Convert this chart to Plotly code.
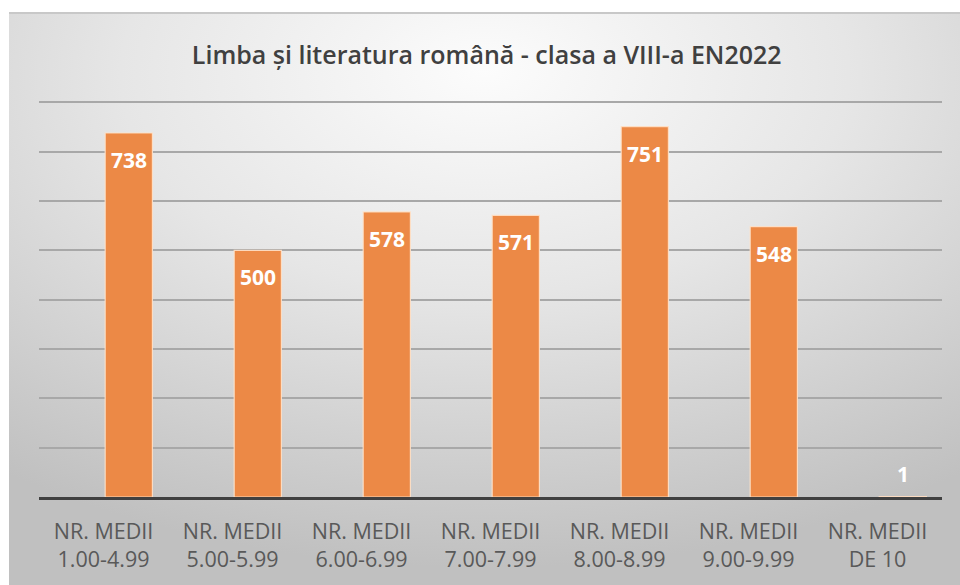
import base64
import plotly.graph_objects as go

# ---- data ----
categories = ["NR. MEDII 1.00-4.99", "NR. MEDII 5.00-5.99", "NR. MEDII 6.00-6.99",
              "NR. MEDII 7.00-7.99", "NR. MEDII 8.00-8.99", "NR. MEDII 9.00-9.99",
              "NR. MEDII DE 10"]
tick_labels = ["NR. MEDII<br>1.00-4.99", "NR. MEDII<br>5.00-5.99", "NR. MEDII<br>6.00-6.99",
               "NR. MEDII<br>7.00-7.99", "NR. MEDII<br>8.00-8.99", "NR. MEDII<br>9.00-9.99",
               "NR. MEDII<br>DE 10"]
values = [738, 500, 578, 571, 751, 548, 1]
y_ticks = [0, 100, 200, 300, 400, 500, 600, 700, 800]
title = "Limba și literatura română - clasa a VIII-a EN2022"

W, H = 960, 585
Y_MAX = 815
BASE_Y = 497            # pixel row of the axis baseline
PX_PER_UNIT = 395 / 800
ML, MR, MB = 39, 18, H - BASE_Y
MT = round(BASE_Y - Y_MAX * PX_PER_UNIT)

# gradient background as svg image
svg = ("<svg xmlns='http://www.w3.org/2000/svg' width='951' height='573'>"
       "<defs><radialGradient id='g' cx='50%' cy='12%' r='85%' fx='50%' fy='10%'>"
       "<stop offset='0' stop-color='#fcfcfc'/>"
       "<stop offset='0.45' stop-color='#e6e6e6'/>"
       "<stop offset='1' stop-color='#c0c0c0'/>"
       "</radialGradient></defs>"
       "<rect width='951' height='573' fill='url(#g)'/>"
       "<rect width='951' height='2' fill='#c8c8c8'/></svg>")
uri = "data:image/svg+xml;base64," + base64.b64encode(svg.encode()).decode()

pw, ph = W - ML - MR, H - MT - MB
bg_left, bg_top = 9, 12

fig = go.Figure()
fig.add_trace(go.Bar(
    x=categories, y=values,
    offset=0.013, width=0.366,
    marker=dict(color="#EC8946", line=dict(color="rgba(255,225,200,0.9)", width=1.2)),
    hoverinfo="x+y",
))

for c, v in zip(categories, values):
    big = v > 50
    fig.add_annotation(
        x=c, y=v, text=str(v), showarrow=False,
        xshift=25, yshift=-27 if big else 23, yanchor="middle",
        font=dict(family="Open Sans", size=21, color="white", weight="bold"),
    )

fig.add_layout_image(dict(
    source=uri, xref="paper", yref="paper",
    x=(bg_left - ML) / pw, y=(H - MB - bg_top) / ph,
    sizex=(W - bg_left) / pw, sizey=(H - bg_top) / ph,
    xanchor="left", yanchor="top", sizing="stretch", layer="below",
))

fig.update_layout(
    width=W, height=H,
    margin=dict(l=ML, r=MR, t=MT, b=MB),
    paper_bgcolor="white", plot_bgcolor="rgba(0,0,0,0)",
    showlegend=False,
    title=dict(text=title, x=0.507, xanchor="center", y=1 - 55 / H, yanchor="middle",
               font=dict(family="Open Sans", size=25, color="#404040", weight=600)),
)
fig.update_xaxes(
    tickmode="array", tickvals=categories, ticktext=tick_labels,
    tickfont=dict(family="Open Sans", size=21.5, color="#595959"),
    showline=True, linecolor="#404040", linewidth=3,
    showgrid=False, ticks="", ticklabelstandoff=13,
)
fig.update_yaxes(
    range=[0, Y_MAX], tickvals=y_ticks, showticklabels=False,
    showgrid=True, gridcolor="#a8a8a8", gridwidth=1.5, zeroline=False,
)

fig.write_html("out.html", config={"displayModeBar": False},
               post_script="document.body.style.margin='0';document.body.style.overflow='hidden';")
